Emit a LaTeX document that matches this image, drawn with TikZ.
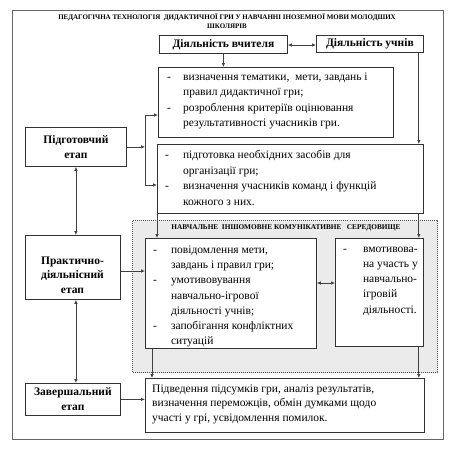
\documentclass[tikz,border=0pt]{standalone}
\usepackage{fontspec}
\setmainfont{Liberation Serif}
\usetikzlibrary{arrows.meta,calc}
\newcommand\bl[1][16pt]{\makebox[#1][l]{-}}
\newcommand\ind[1][16pt]{\hspace*{#1}}
\begin{document}
\begin{tikzpicture}[x=1pt,y=-1pt,
  box/.style={draw=black!80, fill=white, line width=0.8pt, inner sep=0pt, anchor=north west},
  boldf/.style={font=\bfseries\fontsize{11.5}{15}\selectfont, align=center},
  txt/.style={inner sep=0pt, align=left, anchor=west},
  bodyf/.style={font=\fontsize{11.5}{15.5}\selectfont},
  region/.style={draw=black!70, line width=1pt, dash pattern=on 1pt off 1pt, fill=black!8, inner sep=0pt, anchor=north west},
  conn/.style={draw=black!75, line width=0.7pt},
  arr/.style={conn, -{Latex[length=4pt,width=3.5pt]}},
  darr/.style={conn, {Latex[length=4pt,width=3.5pt]}-{Latex[length=4pt,width=3.5pt]}}
]
\useasboundingbox (0,0) rectangle (456,448);
\fill[white] (0,0) rectangle (456,448);
\node[draw=black!60, line width=0.8pt, inner sep=0pt, anchor=north west, minimum width=431pt, minimum height=429pt] (frame) at (12,10) {};

\node[font=\bfseries\fontsize{7}{9}\selectfont, align=center, inner sep=0pt] (title) at (227,21.5)
  {ПЕДАГОГІЧНА ТЕХНОЛОГІЯ\ \ ДИДАКТИЧНОЇ ГРИ У НАВЧАННІ ІНОЗЕМНОЇ МОВИ МОЛОДШИХ\\ШКОЛЯРІВ};

% region
\node[region, minimum width=305pt, minimum height=152pt] (env) at (132,220) {};
\node[font=\bfseries\fontsize{7.3}{8}\selectfont, inner sep=0pt] (envl) at (286,227.5)
  {НАВЧАЛЬНЕ\ \ ІНШОМОВНЕ КОМУНІКАТИВНЕ\ \ \ СЕРЕДОВИЩЕ};

% top boxes
\node[box, boldf, minimum width=128pt, minimum height=18pt] (tch) at (159,35) {Діяльність вчителя};
\node[box, boldf, minimum width=107pt, minimum height=17pt] (stu) at (316,35) {Діяльність учнів};

% content boxes
\node[box, minimum width=235pt, minimum height=70pt] (b1) at (158,67) {};
\node[txt, bodyf] (t1) at (167,101)
  {\bl визначення тематики,\ \ мети, завдань і\\
   \ind правил дидактичної гри;\\
   \bl розроблення критеріїв оцінювання\\
   \ind результативності учасників гри.};

\node[box, minimum width=266pt, minimum height=69pt] (b2) at (157,144) {};
\node[txt, bodyf] (t2) at (165,178)
  {\bl[15pt] підготовка необхідних засобів для\\
   \ind[15pt] організації гри;\\
   \bl[15pt] визначення учасників команд і функцій\\
   \ind[15pt] кожного з них.};

\node[box, minimum width=171pt, minimum height=110pt] (b3) at (145,238) {};
\node[txt, font=\fontsize{11.5}{15.3}\selectfont] (t3) at (153,296.5)
  {\bl[15pt] повідомлення мети,\\
   \ind[15pt] завдань і правил гри;\\
   \bl[15pt] умотивовування\\
   \ind[15pt] навчально-ігрової\\
   \ind[15pt] діяльності учнів;\\
   \bl[15pt] запобігання конфліктних\\
   \ind[15pt] ситуацій};

\node[box, minimum width=88pt, minimum height=108pt] (b4) at (335,238) {};
\node[txt, font=\fontsize{11.5}{15.3}\selectfont] (t4) at (343,281)
  {\bl[17pt] вмотивова-\\
   \ind[17pt] на участь у\\
   \ind[17pt] навчально-\\
   \ind[17pt] ігровій\\
   \ind[17pt] діяльності.};

\node[box, minimum width=279pt, minimum height=54pt] (b5) at (145,378) {};
\node[txt, font=\fontsize{11.5}{14.5}\selectfont] (t5) at (152,404)
  {Підведення підсумків гри, аналіз результатів,\\
   визначення переможців, обмін думками щодо\\
   участі у грі, усвідомлення помилок.};

% stage boxes
\node[box, boldf, minimum width=101pt, minimum height=39pt] (p1) at (25,127) {Підготовчий\\етап};
\node[box, minimum width=95pt, minimum height=64pt] (p2) at (25,235) {};
\node[boldf, inner sep=0pt, font=\bfseries\fontsize{11.5}{14.3}\selectfont] (p2t) at (72.5,275) {Практично-\\діяльнісний\\етап};
\node[box, boldf, minimum width=95pt, minimum height=32pt] (zv) at (25,383) {Завершальний\\етап};

% connectors
\draw[darr] (tch.east |- 0,45) -- (stu.west |- 0,45);
\draw[arr] (tch.south) -- (tch.south |- b1.north);
\draw[arr] ([xshift=-5pt]stu.south east) -- ([xshift=-5pt]stu.south east |- b2.north);

\coordinate (brt) at (145,115);
\coordinate (brb) at (145,185);
\draw[conn] (brt) -- (brb);
\draw[arr] (brt) -- (b1.west |- brt);
\draw[arr] (brb) -- (b2.west |- brb);
\draw[arr] (p1.east) -- (p1.east -| brt);

\draw[darr] (p1.south) -- (p1.south |- p2.north);
\draw[darr] (p1.south |- p2.south) -- (p1.south |- zv.north);

\draw[arr] (p2.east |- 0,271) -- (b3.west |- 0,271);
\draw[darr] (b3.east |- 0,283) -- (b4.west |- 0,283);
\draw[arr] (b2.south west) -- (b2.south west |- b3.north);
\draw[arr] ([xshift=-5pt]b2.south east) -- ([xshift=-5pt]b2.south east |- b4.north);
\draw[arr] ([xshift=7pt]b3.south west) -- ([xshift=7pt]b3.south west |- b5.north);
\draw[arr] ([xshift=-5pt]b4.south east) -- ([xshift=-5pt]b4.south east |- b5.north);
\draw[arr] (zv.east) -- (zv.east -| b5.west);
\end{tikzpicture}
\end{document}
